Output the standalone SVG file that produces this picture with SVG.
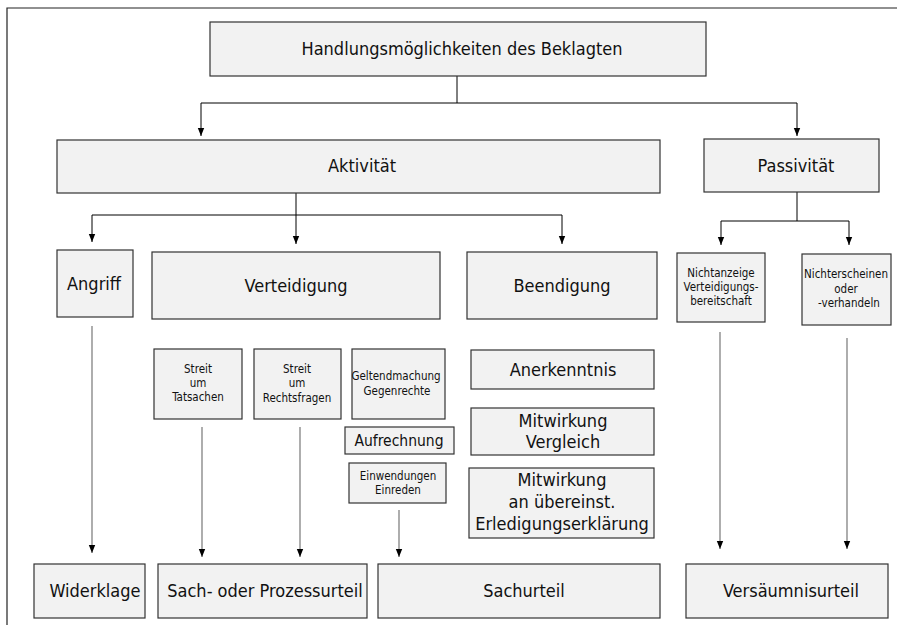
<svg xmlns="http://www.w3.org/2000/svg" width="897" height="625" viewBox="0 0 897 625">
<defs>
<style>
.box{fill:#f2f2f2;stroke:#333;stroke-width:1.2}
text{font-family:"DejaVu Sans Condensed","DejaVu Sans",sans-serif;font-stretch:condensed;fill:#111;text-anchor:middle}
.l{font-size:18px}
.m{font-size:15.5px}
.s{font-size:11.5px}
.c{fill:none;stroke:#000;stroke-width:1}
.g{fill:none;stroke:#777;stroke-width:1.2}
</style>
<marker id="ah" viewBox="0 0 8 8" refX="8" refY="4" markerWidth="8" markerHeight="8" markerUnits="userSpaceOnUse" orient="auto">
<path d="M0,0.8 L8,4 L0,7.2 z" fill="#000"/>
</marker>
</defs>
<rect width="897" height="625" fill="#fff"/>
<path d="M7,625 V8 H897" fill="none" stroke="#222" stroke-width="1.2"/>

<g id="connectors">
<path class="c" d="M457,76 V103"/>
<path class="c" d="M201,103 H797"/>
<path class="c" d="M201,103 V136" marker-end="url(#ah)"/>
<path class="c" d="M797,103 V136" marker-end="url(#ah)"/>
<path class="c" d="M296,193 V215"/>
<path class="c" d="M92,215 H562"/>
<path class="c" d="M92,215 V242" marker-end="url(#ah)"/>
<path class="c" d="M296,215 V244" marker-end="url(#ah)"/>
<path class="c" d="M562,215 V244" marker-end="url(#ah)"/>
<path class="c" d="M797,192 V221"/>
<path class="c" d="M721,221 H849"/>
<path class="c" d="M721,221 V245" marker-end="url(#ah)"/>
<path class="c" d="M849,221 V245" marker-end="url(#ah)"/>
<path class="g" d="M92,326 V553" marker-end="url(#ah)"/>
<path class="g" d="M202,427 V557" marker-end="url(#ah)"/>
<path class="g" d="M300,427 V557" marker-end="url(#ah)"/>
<path class="g" d="M399,510 V557" marker-end="url(#ah)"/>
<path class="g" d="M720,332 V549" marker-end="url(#ah)"/>
<path class="g" d="M847,338 V549" marker-end="url(#ah)"/>
</g>

<g id="n-root"><rect class="box" x="210" y="22" width="496" height="54"/><text class="l" x="462" y="55">Handlungsmöglichkeiten des Beklagten</text></g>
<g id="n-aktiv"><rect class="box" x="57" y="140" width="603" height="53"/><text class="l" x="362" y="172">Aktivität</text></g>
<g id="n-passiv"><rect class="box" x="704" y="139" width="175" height="53"/><text class="l" x="796" y="172">Passivität</text></g>
<g id="n-angriff"><rect class="box" x="57" y="250" width="76" height="67"/><text class="l" x="94" y="290">Angriff</text></g>
<g id="n-vert"><rect class="box" x="152" y="252" width="288" height="67"/><text class="l" x="296" y="292">Verteidigung</text></g>
<g id="n-beend"><rect class="box" x="467" y="252" width="190" height="67"/><text class="l" x="562" y="292">Beendigung</text></g>
<g id="n-nichtanz"><rect class="box" x="677" y="253" width="88" height="69"/><text class="s" x="721" y="277">Nichtanzeige</text><text class="s" x="721" y="291">Verteidigungs-</text><text class="s" x="721" y="305">bereitschaft</text></g>
<g id="n-nichtersch"><rect class="box" x="802" y="254" width="89" height="71"/><text class="s" x="846" y="278">Nichterscheinen</text><text class="s" x="846" y="293">oder</text><text class="s" x="849" y="307">-verhandeln</text></g>
<g id="n-tats"><rect class="box" x="154" y="349" width="88" height="70"/><text class="s" x="198" y="373">Streit</text><text class="s" x="198" y="387">um</text><text class="s" x="198" y="401">Tatsachen</text></g>
<g id="n-recht"><rect class="box" x="254" y="349" width="87" height="70"/><text class="s" x="297" y="373">Streit</text><text class="s" x="297" y="387">um</text><text class="s" x="297" y="402">Rechtsfragen</text></g>
<g id="n-gelt"><rect class="box" x="352" y="349" width="93" height="70"/><text class="s" x="396" y="380">Geltendmachung</text><text class="s" x="397" y="395">Gegenrechte</text></g>
<g id="n-aufr"><rect class="box" x="345" y="427" width="109" height="27"/><text class="m" x="399" y="446">Aufrechnung</text></g>
<g id="n-einw"><rect class="box" x="349" y="463" width="97" height="40"/><text class="s" x="398" y="480">Einwendungen</text><text class="s" x="398" y="494">Einreden</text></g>
<g id="n-anerk"><rect class="box" x="471" y="350" width="183" height="39"/><text class="l" x="563" y="376">Anerkenntnis</text></g>
<g id="n-vergl"><rect class="box" x="471" y="408" width="183" height="47"/><text class="l" x="563" y="427">Mitwirkung</text><text class="l" x="563" y="448">Vergleich</text></g>
<g id="n-erled"><rect class="box" x="469" y="468" width="185" height="70"/><text class="l" x="562" y="486">Mitwirkung</text><text class="l" x="562" y="508">an übereinst.</text><text class="l" x="562" y="530">Erledigungserklärung</text></g>
<g id="n-wider"><rect class="box" x="34" y="564" width="111" height="54"/><text class="l" x="95" y="597">Widerklage</text></g>
<g id="n-sachproz"><rect class="box" x="158" y="564" width="209" height="54"/><text class="l" x="265" y="597">Sach- oder Prozessurteil</text></g>
<g id="n-sach"><rect class="box" x="378" y="564" width="282" height="54"/><text class="l" x="524" y="597">Sachurteil</text></g>
<g id="n-versaeum"><rect class="box" x="686" y="564" width="202" height="54"/><text class="l" x="791" y="597">Versäumnisurteil</text></g>
</svg>
